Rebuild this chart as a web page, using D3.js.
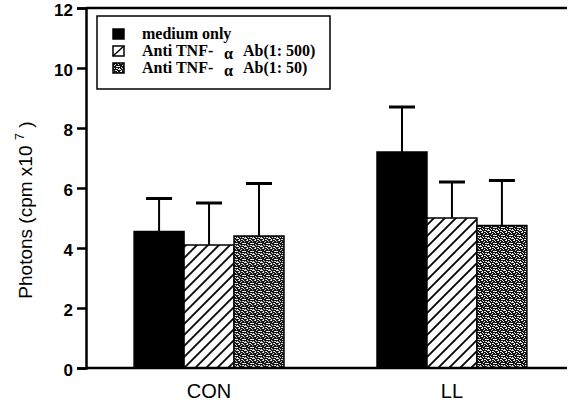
<!DOCTYPE html>
<html>
<head>
<meta charset="utf-8">
<script src="https://cdn.jsdelivr.net/npm/d3@7"></script>
<style>
  body { margin: 0; background: #fff; }
  #chart { width: 573px; height: 405px; }
</style>
</head>
<body>
<div id="chart"></div>
<script>

// data
const groups = ["CON", "LL"];
const seriesNames = ["medium only", "Anti TNF-α Ab(1:500)", "Anti TNF-α Ab(1:50)"];
const means = [
  [4.55, 4.1, 4.4],   // CON
  [7.2, 5.0, 4.75]    // LL
];
const upper = [
  [5.65, 5.5, 6.15],
  [8.7, 6.2, 6.25]
];
const yTicks = [0, 2, 4, 6, 8, 10, 12];

const width = 573;
const height = 405;
const margin = { top: 8, left: 86, right: 6, bottom: 37 };

const svg = d3.select("#chart")
  .append("svg")
  .attr("width", width)
  .attr("height", height);

/*
PATTERNS
*/
const defs = svg.append("defs");

const hatch = defs.append("pattern")
  .attr("id", "hatch")
  .attr("patternUnits", "userSpaceOnUse")
  .attr("width", 11)
  .attr("height", 11);
hatch.append("rect").attr("width", 11).attr("height", 11).attr("fill", "#fff");
hatch.append("path")
  .attr("d", "M-2,2 L2,-2 M0,11 L11,0 M9,13 L13,9")
  .attr("stroke", "#000")
  .attr("stroke-width", 1.8);

// stipple texture, hand placed specks
const specks = [
  [0, 0, 2], [3, 1, 1], [5, 3, 2], [1, 4, 1], [4, 5, 2], [2, 2, 1], [6, 6, 2], [0, 6, 1],
  [5, 0, 1], [3, 7, 2], [7, 3, 1], [1, 7, 1], [6, 1, 1], [2, 5, 1], [7, 5, 1], [4, 3, 1]
];
const stipple = defs.append("pattern")
  .attr("id", "stipple")
  .attr("patternUnits", "userSpaceOnUse")
  .attr("width", 8)
  .attr("height", 8);
stipple.append("rect").attr("width", 8).attr("height", 8).attr("fill", "#111");
stipple.selectAll("rect.s")
  .data(specks)
  .enter()
  .append("rect")
  .attr("class", "s")
  .attr("x", d => d[0])
  .attr("y", d => d[1])
  .attr("width", d => d[2])
  .attr("height", 1)
  .attr("fill", "#e8e8e8");

const fills = ["#000", "url(#hatch)", "url(#stipple)"];

/*
SCALES
*/
const xScale = d3.scaleBand()
  .domain(groups)
  .range([margin.left, 575])
  .paddingInner(0.383)
  .paddingOuter(0.198);

const xSub = d3.scaleBand()
  .domain(d3.range(seriesNames.length))
  .range([0, xScale.bandwidth()]);

const yScale = d3.scaleLinear()
  .domain([0, 12])
  .range([height - margin.bottom, margin.top]);

/*
BARS
*/
const group = svg.selectAll("g.group")
  .data(groups)
  .enter()
  .append("g")
  .attr("class", "group")
  .attr("transform", d => `translate(${xScale(d)},0)`);

group.selectAll("rect")
  .data((d, i) => means[i].map((v, j) => ({ v: v, j: j })))
  .enter()
  .append("rect")
  .attr("x", d => xSub(d.j))
  .attr("y", d => yScale(d.v))
  .attr("width", xSub.bandwidth())
  .attr("height", d => yScale(0) - yScale(d.v))
  .attr("fill", d => fills[d.j])
  .attr("stroke", "#000")
  .attr("stroke-width", 1.5);

// error bars
const err = group.selectAll("g.err")
  .data((d, i) => means[i].map((v, j) => ({ v: v, u: upper[i][j], j: j })))
  .enter()
  .append("g")
  .attr("class", "err");

err.append("line")
  .attr("x1", d => xSub(d.j) + xSub.bandwidth() / 2)
  .attr("x2", d => xSub(d.j) + xSub.bandwidth() / 2)
  .attr("y1", d => yScale(d.v))
  .attr("y2", d => yScale(d.u))
  .attr("stroke", "#000")
  .attr("stroke-width", 2);

err.append("line")
  .attr("x1", d => xSub(d.j) + xSub.bandwidth() / 2 - 13)
  .attr("x2", d => xSub(d.j) + xSub.bandwidth() / 2 + 13)
  .attr("y1", d => yScale(d.u))
  .attr("y2", d => yScale(d.u))
  .attr("stroke", "#000")
  .attr("stroke-width", 3);

/*
AXES
*/
const yAxis = svg.append("g")
  .attr("transform", `translate(${margin.left},0)`)
  .call(d3.axisLeft(yScale).tickValues(yTicks).tickSize(9).tickPadding(4));
yAxis.select(".domain").attr("stroke-width", 2.5);
yAxis.selectAll(".tick line").attr("stroke-width", 2.5);
yAxis.selectAll(".tick text")
  .attr("font-family", "Liberation Sans, Arial, sans-serif")
  .attr("font-weight", "bold")
  .attr("font-size", 17)
  .attr("dy", "0.42em")
  .attr("fill", "#000");

// bottom and top frame lines
svg.append("line")
  .attr("x1", margin.left).attr("x2", width - margin.right)
  .attr("y1", yScale(0)).attr("y2", yScale(0))
  .attr("stroke", "#000").attr("stroke-width", 2.5);
svg.append("line")
  .attr("x1", margin.left).attr("x2", width - margin.right)
  .attr("y1", yScale(12)).attr("y2", yScale(12))
  .attr("stroke", "#000").attr("stroke-width", 2.5);

svg.selectAll("text.cat")
  .data(groups)
  .enter()
  .append("text")
  .attr("class", "cat")
  .attr("x", d => xScale(d) + xScale.bandwidth() / 2)
  .attr("y", 398)
  .attr("text-anchor", "middle")
  .attr("font-family", "Liberation Sans, Arial, sans-serif")
  .attr("font-size", 20)
  .text(d => d);

// y axis title
const yTitle = svg.append("text")
  .attr("transform", "translate(32,210) rotate(-90)")
  .attr("text-anchor", "middle")
  .attr("font-family", "Liberation Sans, Arial, sans-serif")
  .attr("font-size", 19);
yTitle.append("tspan").text("Photons (cpm x10 ");
yTitle.append("tspan").attr("dy", -8).attr("font-size", 13).text("7");
yTitle.append("tspan").attr("dy", 8).text(" )");

/*
LEGEND
*/
const legend = svg.append("g");
legend.append("rect")
  .attr("x", 97).attr("y", 16)
  .attr("width", 233).attr("height", 73)
  .attr("fill", "#fff")
  .attr("stroke", "#000")
  .attr("stroke-width", 1.5);

const legendRows = [
  ["medium only", "", ""],
  ["Anti TNF- ", "α", "Ab(1: 500)"],
  ["Anti TNF- ", "α", "Ab(1: 50)"]
];

const row = legend.selectAll("g.row")
  .data(legendRows)
  .enter()
  .append("g")
  .attr("class", "row")
  .attr("transform", (d, i) => `translate(0,${29 + i * 17})`);

row.append("rect")
  .attr("x", 113).attr("y", 0)
  .attr("width", 11).attr("height", 10)
  .attr("fill", (d, i) => i === 1 ? "#fff" : fills[i])
  .attr("stroke", "#000")
  .attr("stroke-width", 1.5);

row.filter((d, i) => i === 1)
  .append("line")
  .attr("x1", 113).attr("y1", 10)
  .attr("x2", 124).attr("y2", 0)
  .attr("stroke", "#000").attr("stroke-width", 1.5);

const lt = row.append("g")
  .attr("font-family", "Liberation Serif, Times New Roman, serif")
  .attr("font-weight", "bold")
  .attr("font-size", 16);
lt.append("text").attr("x", 142).attr("y", 10).text(d => d[0]);
lt.append("text").attr("x", 224).attr("y", 13).text(d => d[1]);
lt.append("text").attr("x", 243).attr("y", 10).text(d => d[2]);

</script>
</body>
</html>
